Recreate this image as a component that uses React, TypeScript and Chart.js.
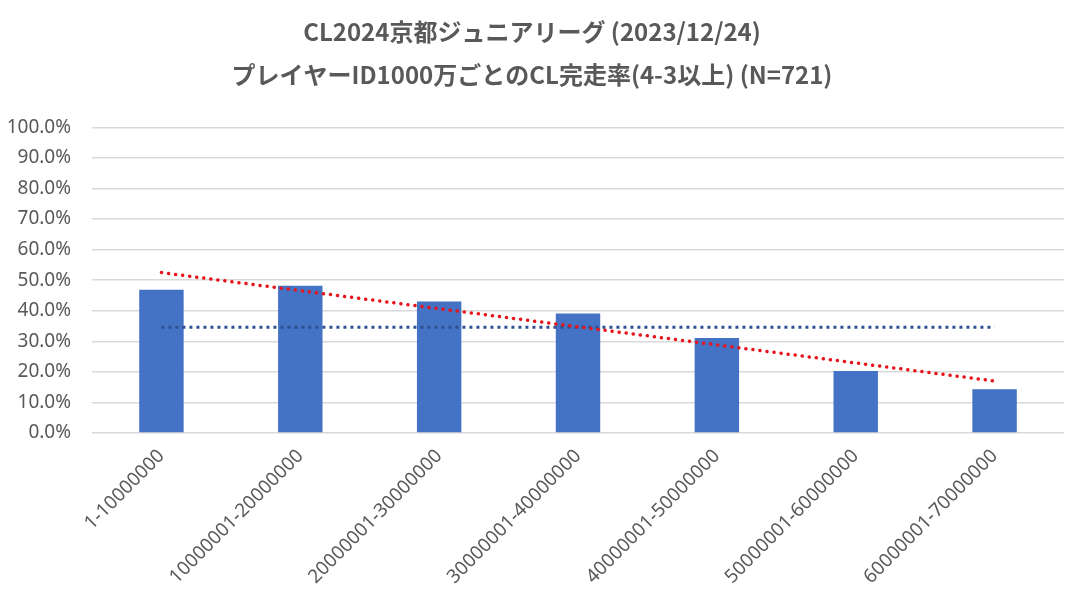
import React, { useRef, useEffect } from 'react'
import Chart from 'chart.js/auto'

const categories = [
  '1-10000000',
  '10000001-20000000',
  '20000001-30000000',
  '30000001-40000000',
  '40000001-50000000',
  '50000001-60000000',
  '60000001-70000000',
]
// CL完走率 (%)
const rates = [46.9, 48.2, 43.0, 39.1, 31.1, 20.3, 14.3]
// 平均 (dotted navy line)
const average = [34.6, 34.6, 34.6, 34.6, 34.6, 34.6, 34.6]
// 線形近似 (read from the ends of the red dotted line)
const trend = [52.5, null, null, null, null, null, 17.0]

const titleLines = [
  'CL2024京都ジュニアリーグ (2023/12/24)',
  'プレイヤーID1000万ごとのCL完走率(4-3以上) (N=721)',
]

const GRAY = '#595959'

const App: React.FC = () => {
  const canvasRef = useRef<HTMLCanvasElement>(null)

  useEffect(() => {
    document.body.style.margin = '0'
    if (!canvasRef.current) return
    const ctx = canvasRef.current.getContext('2d')
    if (!ctx) return

    let chart = Chart.getChart(canvasRef.current)
    if (chart) chart.destroy()

    chart = new Chart(ctx, {
      type: 'bar',
      data: {
        labels: categories,
        datasets: [
          {
            type: 'line',
            label: 'trend',
            data: trend,
            borderColor: '#E8141B',
            borderWidth: 3.5,
            borderDash: [0.1, 7],
            borderCapStyle: 'round',
            pointRadius: 0,
            spanGaps: true,
            order: 0,
          },
          {
            type: 'line',
            label: 'average',
            data: average,
            borderColor: '#2F5090',
            borderWidth: 3,
            borderDash: [3, 4],
            pointRadius: 0,
            order: 1,
          },
          {
            label: 'CL完走率',
            data: rates,
            backgroundColor: '#4472C4',
            categoryPercentage: 1,
            barPercentage: 0.32,
            order: 2,
          },
        ],
      },
      options: {
        animation: false,
        responsive: false,
        maintainAspectRatio: false,
        layout: { padding: { left: 0, right: 20, top: 0, bottom: 0 } },
        plugins: {
          legend: { display: false },
          tooltip: { enabled: false },
          title: {
            display: true,
            text: titleLines,
            color: GRAY,
            font: { family: '"Noto Sans CJK JP", sans-serif', size: 24, weight: 'bold', lineHeight: 1.8 },
            padding: { top: 10, bottom: 31 },
          },
        },
        scales: {
          x: {
            grid: { display: false },
            border: { display: false },
            ticks: {
              color: GRAY,
              font: { family: '"Noto Sans", sans-serif', size: 19 },
              maxRotation: 45,
              minRotation: 45,
              autoSkip: false,
              padding: 4,
            },
            afterFit: (scale: any) => {
              scale.height = 166
            },
          },
          y: {
            min: 0,
            max: 100,
            border: { display: false },
            grid: { color: '#D9D9D9', lineWidth: 1.5, drawTicks: false },
            ticks: {
              stepSize: 10,
              color: GRAY,
              font: { family: '"Noto Sans", sans-serif', size: 19 },
              padding: 21,
              callback: (v: any) => Number(v).toFixed(1) + '%',
            },
            afterFit: (scale: any) => {
              scale.width = 92
            },
          },
        },
      },
    })

    return () => {
      if (chart) chart.destroy()
    }
  }, [])

  return (
    <div style={{ width: 1084, height: 599, background: '#fff' }}>
      <canvas ref={canvasRef} width={1084} height={599} style={{ width: 1084, height: 599, display: 'block' }} />
    </div>
  )
}

export default App
